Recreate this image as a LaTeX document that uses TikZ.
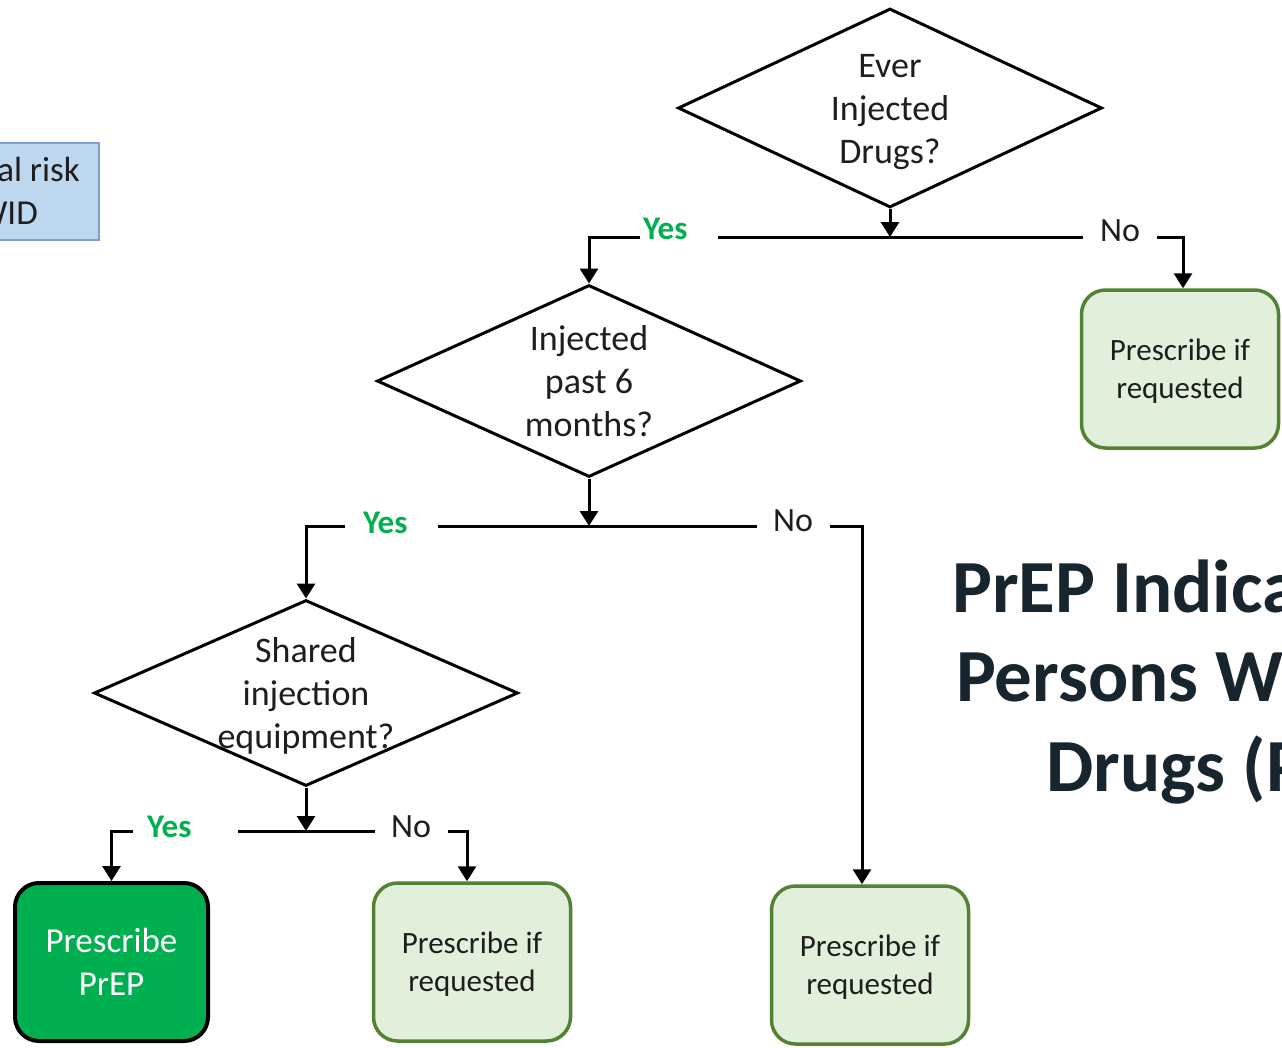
\documentclass[tikz,border=0pt]{standalone}
\usepackage{fontspec}
\setmainfont{Carlito}
\usetikzlibrary{shapes.geometric,arrows.meta}

\definecolor{leaf}{RGB}{226,239,218}
\definecolor{leafedge}{RGB}{84,130,53}
\definecolor{prepgreen}{RGB}{0,176,80}
\definecolor{titleink}{RGB}{23,37,46}
\definecolor{skyfill}{RGB}{189,215,238}
\definecolor{skyedge}{RGB}{125,160,210}
\definecolor{ink}{RGB}{30,30,30}

\tikzset{
  decision/.style={diamond, draw=black, line width=3pt, fill=white, inner sep=0pt},
  qtext/.style={inner sep=0pt, align=center, text=ink, font=\fontsize{36pt}{43pt}\selectfont},
  softbox/.style={rectangle, rounded corners=24pt, draw=leafedge, line width=3.5pt,
    fill=leaf, minimum width=197pt, minimum height=158pt, align=center, text=ink,
    font=\fontsize{31pt}{38pt}\selectfont, text depth=-3pt},
  prepbox/.style={rectangle, rounded corners=24pt, draw=black, line width=4pt,
    fill=prepgreen, minimum width=193pt, minimum height=158pt, align=center, text=white,
    font=\fontsize{35pt}{43pt}\selectfont},
  skybox/.style={rectangle, draw=skyedge, line width=1.5pt, fill=skyfill,
    minimum width=240pt, minimum height=97pt},
  skytext/.style={inner sep=0pt, anchor=base east, text=ink, font=\fontsize{35pt}{42pt}\selectfont},
  flow/.style={draw=black, line width=3pt},
  arr/.style={flow, -{Triangle[width=18pt,length=15pt]}},
  gap/.style={fill=white, inner sep=0pt, minimum height=10pt},
  yeslbl/.style={inner sep=0pt, anchor=base west, text=prepgreen, font=\bfseries\fontsize{33pt}{40pt}\selectfont},
  nolbl/.style={inner sep=0pt, anchor=base west, text=ink, font=\fontsize{34pt}{40pt}\selectfont},
  headline/.style={inner sep=0pt, anchor=base west, text=titleink, font=\bfseries\fontsize{75pt}{90pt}\selectfont},
}

\begin{document}
\begin{tikzpicture}[x=1pt,y=-1pt]
\useasboundingbox (0,0) rectangle (1282,1047);
\clip (0,0) rectangle (1282,1047);
\fill[white] (0,0) rectangle (1282,1047);

% side note box, running off the left edge
\node[skybox] (risk) at (-21,191.5) {};
\node[skytext] (riskA) at (80,181) {Behavioral risk};
\node[skytext] (riskB) at (38,224) {for PWID};

% headline, running off the right edge
\node[headline] (h1) at (952,612) {PrEP Indications for};
\node[headline] (h2) at (956,701) {Persons Who Inject};
\node[headline] (h3) at (1046,791) {Drugs (PWID)};

% decisions
\node[decision, minimum width=424pt, minimum height=199pt] (d1) at (890,108) {};
\node[qtext] (t1) at ([yshift=-4pt]d1.center) {Ever\\Injected\\Drugs?};
\node[decision, minimum width=424pt, minimum height=192pt] (d2) at (589,381) {};
\node[qtext] (t2) at (d2) {Injected\\past 6\\months?};
\node[decision, minimum width=424pt, minimum height=186pt] (d3) at (306,693) {};
\node[qtext] (t3) at ([yshift=-3pt]d3.center) {Shared\\injection\\equipment?};

% outcomes
\node[softbox] (b1) at (1180,369) {Prescribe if\\requested};
\node[prepbox] (b4) at (111.5,962) {Prescribe\\PrEP};
\node[softbox] (b2) at (472,962) {Prescribe if\\requested};
\node[softbox] (b3) at (870,965) {Prescribe if\\requested};

% branch points
\coordinate (j1) at (d1.south |- 0,237);
\coordinate (j2) at (d2.south |- 0,526);
\coordinate (j3) at (d3.south |- 0,831);

% connectors
\draw[arr] (d1.south) -- (j1);
\draw[arr] (j1) -| (d2.north);
\draw[arr] (j1) -| ([xshift=3pt]b1.north);

\draw[arr] (d2.south) -- (j2);
\draw[arr] (j2) -| (d3.north);
\draw[arr] (j2) -| ([xshift=-8pt]b3.north);

\draw[arr] (d3.south) -- (j3);
\draw[arr] (j3) -| (b4.north);
\draw[arr] (j3) -| ([xshift=-5pt]b2.north);

% branch labels set into the lines
\node[gap, minimum width=78pt] (g1) at (679,237) {};
\node[yeslbl] (y1) at (643,239) {Yes};
\node[gap, minimum width=74pt] (g2) at (1120,237) {};
\node[nolbl] (n1) at (1100,241) {No};

\node[gap, minimum width=93pt] (g3) at (391.5,526) {};
\node[yeslbl] (y2) at (363,533) {Yes};
\node[gap, minimum width=73pt] (g4) at (793.5,526) {};
\node[nolbl] (n2) at (773,531) {No};

\node[gap, minimum width=105pt] (g5) at (185.5,831) {};
\node[yeslbl] (y3) at (147,837) {Yes};
\node[gap, minimum width=73pt] (g6) at (411.5,831) {};
\node[nolbl] (n3) at (391,837) {No};
\end{tikzpicture}
\end{document}
